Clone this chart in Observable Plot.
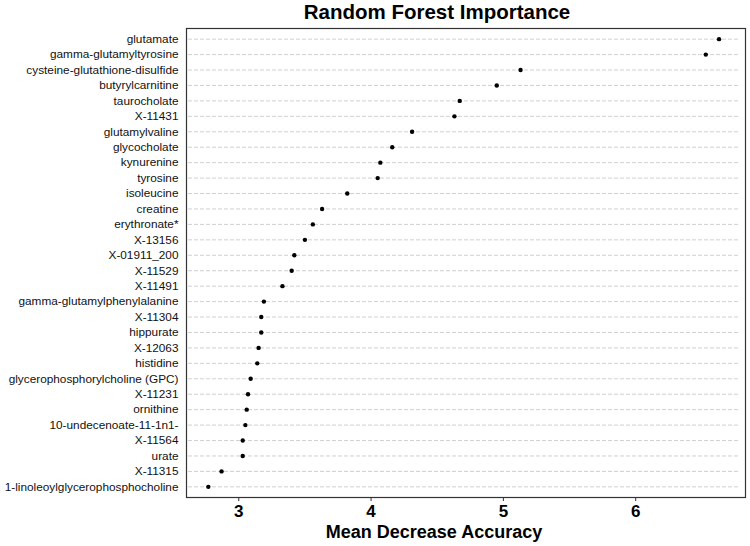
<!DOCTYPE html>
<html>
<head>
<meta charset="utf-8">
<script src="https://cdn.jsdelivr.net/npm/d3@7"></script>
<script src="https://cdn.jsdelivr.net/npm/@observablehq/plot@0.6"></script>
<style>
  html, body { margin: 0; padding: 0; background: #fff; }
  #chart svg { display: block; }
</style>
</head>
<body>
<div id="chart"></div>
<script>
const metabolites = [
  "glutamate", "gamma-glutamyltyrosine", "cysteine-glutathione-disulfide", "butyrylcarnitine",
  "taurocholate", "X-11431", "glutamylvaline", "glycocholate", "kynurenine", "tyrosine",
  "isoleucine", "creatine", "erythronate*", "X-13156", "X-01911_200", "X-11529", "X-11491",
  "gamma-glutamylphenylalanine", "X-11304", "hippurate", "X-12063", "histidine",
  "glycerophosphorylcholine (GPC)", "X-11231", "ornithine", "10-undecenoate-11-1n1-",
  "X-11564", "urate", "X-11315", "1-linoleoylglycerophosphocholine"
];
const importance = [
  6.63, 6.53, 5.13, 4.95, 4.67, 4.63, 4.31, 4.16, 4.07, 4.05,
  3.82, 3.63, 3.56, 3.50, 3.42, 3.40, 3.33, 3.19, 3.17, 3.17,
  3.15, 3.14, 3.09, 3.07, 3.06, 3.05, 3.03, 3.03, 2.87, 2.77
];
const xTicks = [3, 4, 5, 6];
const titleText = "Random Forest Importance";
const xLabel = "Mean Decrease Accuracy";

const data = metabolites.map((name, i) => ({name, value: importance[i]}));

const chart = Plot.plot({
  width: 750,
  height: 546,
  marginLeft: 186,
  marginRight: 5,
  marginTop: 28,
  marginBottom: 49,
  style: {fontFamily: "'Liberation Sans', Arial, sans-serif", color: "#111", background: "#fff"},
  x: {domain: [2.605, 6.83], ticks: xTicks},
  y: {type: "point", domain: metabolites, padding: 0.69, round: false},
  marks: [
    Plot.gridY({stroke: "#c4c4c4", strokeOpacity: 1, strokeWidth: 0.8, strokeDasharray: "4,2", insetLeft: 2, insetRight: 7}),
    Plot.frame({stroke: "#333", strokeWidth: 1.2}),
    Plot.axisY({tickSize: 0, tickPadding: 8, fontSize: 11.8, label: null, fill: "#111"}),
    Plot.axisX({ticks: xTicks, tickFormat: "d", tickSize: 4, tickPadding: 3, fontSize: 17, fontWeight: "bold", label: null, stroke: "#333", fill: "#000"}),
    Plot.dot(data, {x: "value", y: "name", r: 2.2, fill: "#000", stroke: null}),
    Plot.text([titleText], {frameAnchor: "top", lineAnchor: "middle", dx: -29, dy: -16, fontSize: 20.5, fontWeight: "bold", fill: "#000"}),
    Plot.text([xLabel], {frameAnchor: "bottom", lineAnchor: "middle", dx: -32, dy: 35, fontSize: 18, fontWeight: "bold", fill: "#000"})
  ]
});
document.getElementById("chart").append(chart);
</script>
</body>
</html>
